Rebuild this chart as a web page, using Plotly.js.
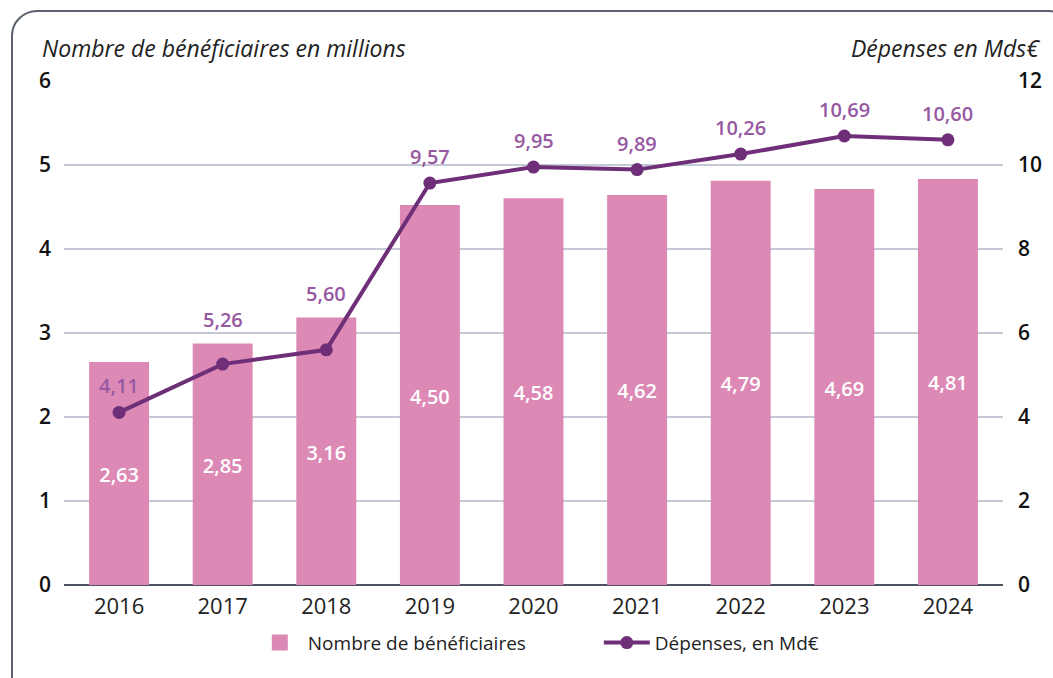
<!DOCTYPE html>
<html><head><meta charset="utf-8">
<script src="https://cdn.plot.ly/plotly-3.0.1.min.js"></script>
<style>body{margin:0;background:#fff}#c{width:1053px;height:678px;}
#frame{position:absolute;left:11px;top:10px;width:1060px;height:690px;border:2.5px solid #5b6170;border-radius:26px;pointer-events:none}</style>
</head><body><div id="frame"></div><div id="c"></div>
<script>
const years = ['2016','2017','2018','2019','2020','2021','2022','2023','2024'];
const beneficiaires = [2.63,2.85,3.16,4.50,4.58,4.62,4.79,4.69,4.81];
const depenses = [4.11,5.26,5.60,9.57,9.95,9.89,10.26,10.69,10.60];
const fmt = v => v.toFixed(2).replace('.',',');
const F = '"Open Sans", sans-serif';
const BAR = '#dc89b6', LINE = '#6e2f78', LBL = '#9659a2';
// line labels: above the point; lifted above the bar top when the bar only just covers the point (y2 = 2 × y)
const lineLabels = years.map((yr,i)=>{
  const barTop = beneficiaires[i]*2;
  const y = (barTop > depenses[i] && barTop - depenses[i] < 1) ? barTop : depenses[i];
  return {x:yr, y:y, xref:'x', yref:'y2', text:fmt(depenses[i]), showarrow:false, yanchor:'bottom', yshift:11,
    font:{color:LBL,size:20,family:F,weight:600}};
});
Plotly.newPlot('c',[
 {type:'bar',x:years,y:beneficiaires,name:'Nombre de bénéficiaires',marker:{color:BAR,line:{color:BAR,width:4}},
  text:beneficiaires.map(fmt),textposition:'inside',insidetextanchor:'middle',
  textfont:{color:'#fff',size:20,family:F,weight:600},hoverinfo:'none'},
 {type:'scatter',mode:'lines+markers',x:years,y:depenses,yaxis:'y2',name:'Dépenses, en Md€',
  line:{color:LINE,width:4},marker:{color:LINE,size:13},cliponaxis:false}
],{
 width:1053,height:678,margin:{l:64,r:50,t:81,b:93,autoexpand:false},
 paper_bgcolor:'rgba(0,0,0,0)',plot_bgcolor:'rgba(0,0,0,0)',
 bargap:0.46,showlegend:true,
 font:{family:F,color:'#111'},
 xaxis:{tickfont:{size:22,family:F,color:'#222'},showgrid:false,ticks:'',fixedrange:true,ticklabelstandoff:6},
 yaxis:{range:[0,6],dtick:1,tickfont:{size:21,family:F,color:'#111',weight:600},gridcolor:'#c5c9d6',gridwidth:1.5,
   zeroline:true,zerolinecolor:'#4d5260',zerolinewidth:2.5,ticklabelstandoff:12},
 yaxis2:{range:[0,12],dtick:2,overlaying:'y',side:'right',showgrid:false,zeroline:false,
   tickfont:{size:21,family:F,color:'#111',weight:600},ticklabelstandoff:14},
 legend:{orientation:'h',x:0.2,xanchor:'left',yref:'container',y:0.052,yanchor:'middle',entrywidth:286,itemwidth:46,
   font:{size:19,family:F,color:'#222'}},
 annotations:[
  {text:'<i>Nombre de bénéficiaires en millions</i>',xref:'paper',yref:'paper',x:-0.026,y:1.065,xanchor:'left',yanchor:'middle',showarrow:false,font:{size:23,family:F,color:'#222'}},
  {text:'<i>Dépenses en Mds€</i>',xref:'paper',yref:'paper',x:1.042,y:1.065,xanchor:'right',yanchor:'middle',showarrow:false,font:{size:23,family:F,color:'#222'}}
 ].concat(lineLabels)
},{displayModeBar:false,staticPlot:true});
</script></body></html>
